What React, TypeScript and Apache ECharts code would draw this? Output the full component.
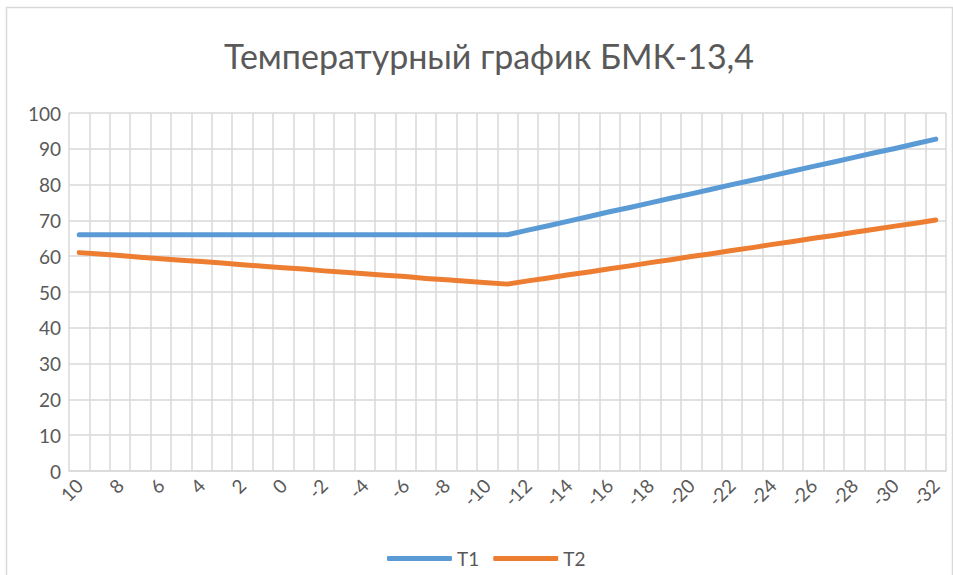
import React, { useEffect, useRef } from "react";
import * as echarts from "echarts";

const titleText = "Температурный график БМК-13,4";

// outdoor temperature categories, 10 … -32
const categories = [
  "10", "9", "8", "7", "6", "5", "4", "3", "2", "1", "0",
  "-1", "-2", "-3", "-4", "-5", "-6", "-7", "-8", "-9", "-10",
  "-11", "-12", "-13", "-14", "-15", "-16", "-17", "-18", "-19", "-20",
  "-21", "-22", "-23", "-24", "-25", "-26", "-27", "-28", "-29", "-30",
  "-31", "-32",
];

const t1 = [
  66, 66, 66, 66, 66, 66, 66, 66, 66, 66, 66,
  66, 66, 66, 66, 66, 66, 66, 66, 66, 66,
  66, 67.3, 68.5, 69.8, 71.1, 72.4, 73.6, 74.9, 76.2, 77.4,
  78.7, 80.0, 81.2, 82.5, 83.8, 85.1, 86.3, 87.6, 88.9, 90.1,
  91.4, 92.7,
];

const t2 = [
  61.0, 60.6, 60.2, 59.7, 59.3, 58.9, 58.5, 58.1, 57.6, 57.2, 56.8,
  56.4, 55.9, 55.5, 55.1, 54.7, 54.3, 53.8, 53.4, 53.0, 52.6,
  52.2, 53.1, 53.9, 54.8, 55.6, 56.5, 57.3, 58.2, 59.0, 59.9,
  60.7, 61.6, 62.4, 63.3, 64.1, 65.0, 65.8, 66.7, 67.5, 68.4,
  69.2, 70.1,
];

const seriesNames = ["T1", "T2"];

export default function App() {
  const ref = useRef<HTMLDivElement>(null);
  useEffect(() => {
    document.body.style.margin = "0";
    const chart = echarts.init(ref.current!, null, { renderer: "svg" });
    const font = "Lato, 'Open Sans', sans-serif";
    const textColor = "#595959";
    const gridColor = "#d9d9d9";
    chart.setOption({
      animation: false,
      backgroundColor: "#ffffff",
      textStyle: { fontFamily: font },
      title: {
        text: titleText,
        left: 484,
        textAlign: "center",
        top: 33,
        textStyle: { fontFamily: font, fontSize: 34, fontWeight: "normal", color: textColor },
      },
      graphic: [
        {
          type: "rect",
          shape: { x: 6.5, y: 7.5, width: 946, height: 600 },
          style: { fill: "none", stroke: gridColor, lineWidth: 1.5 },
          silent: true,
        },
      ],
      legend: {
        bottom: 2,
        left: 382,
        icon: "roundRect",
        itemWidth: 65,
        itemHeight: 5,
        itemGap: 14,
        data: seriesNames,
        textStyle: { fontFamily: font, fontSize: 19, color: textColor, padding: [0, 0, 0, 0] },
      },
      grid: { left: 69, right: 7, top: 113, bottom: 104, containLabel: false },
      xAxis: {
        type: "category",
        data: categories,
        boundaryGap: true,
        axisLine: { show: true, lineStyle: { color: gridColor, width: 1.5 } },
        axisTick: { show: false },
        axisLabel: {
          interval: 1,
          rotate: 45,
          fontFamily: font,
          fontSize: 19,
          color: textColor,
          margin: 11,
        },
        splitLine: { show: true, interval: 0, lineStyle: { color: gridColor, width: 1.5 } },
      },
      yAxis: {
        type: "value",
        min: 0,
        max: 100,
        interval: 10,
        axisLine: { show: false },
        axisTick: { show: false },
        axisLabel: { fontFamily: font, fontSize: 19, color: textColor, margin: 8 },
        splitLine: { show: true, lineStyle: { color: gridColor, width: 1.5 } },
      },
      series: [
        {
          name: seriesNames[0],
          type: "line",
          data: t1,
          showSymbol: false,
          symbol: "none",
          lineStyle: { color: "#5B9BD5", width: 5, cap: "round", join: "round" },
          itemStyle: { color: "#5B9BD5" },
        },
        {
          name: seriesNames[1],
          type: "line",
          data: t2,
          showSymbol: false,
          symbol: "none",
          lineStyle: { color: "#ED7D31", width: 5, cap: "round", join: "round" },
          itemStyle: { color: "#ED7D31" },
        },
      ],
    });
    return () => chart.dispose();
  }, []);
  return <div ref={ref} style={{ width: 953, height: 575, position: "fixed", left: 0, top: 0 }} />;
}
